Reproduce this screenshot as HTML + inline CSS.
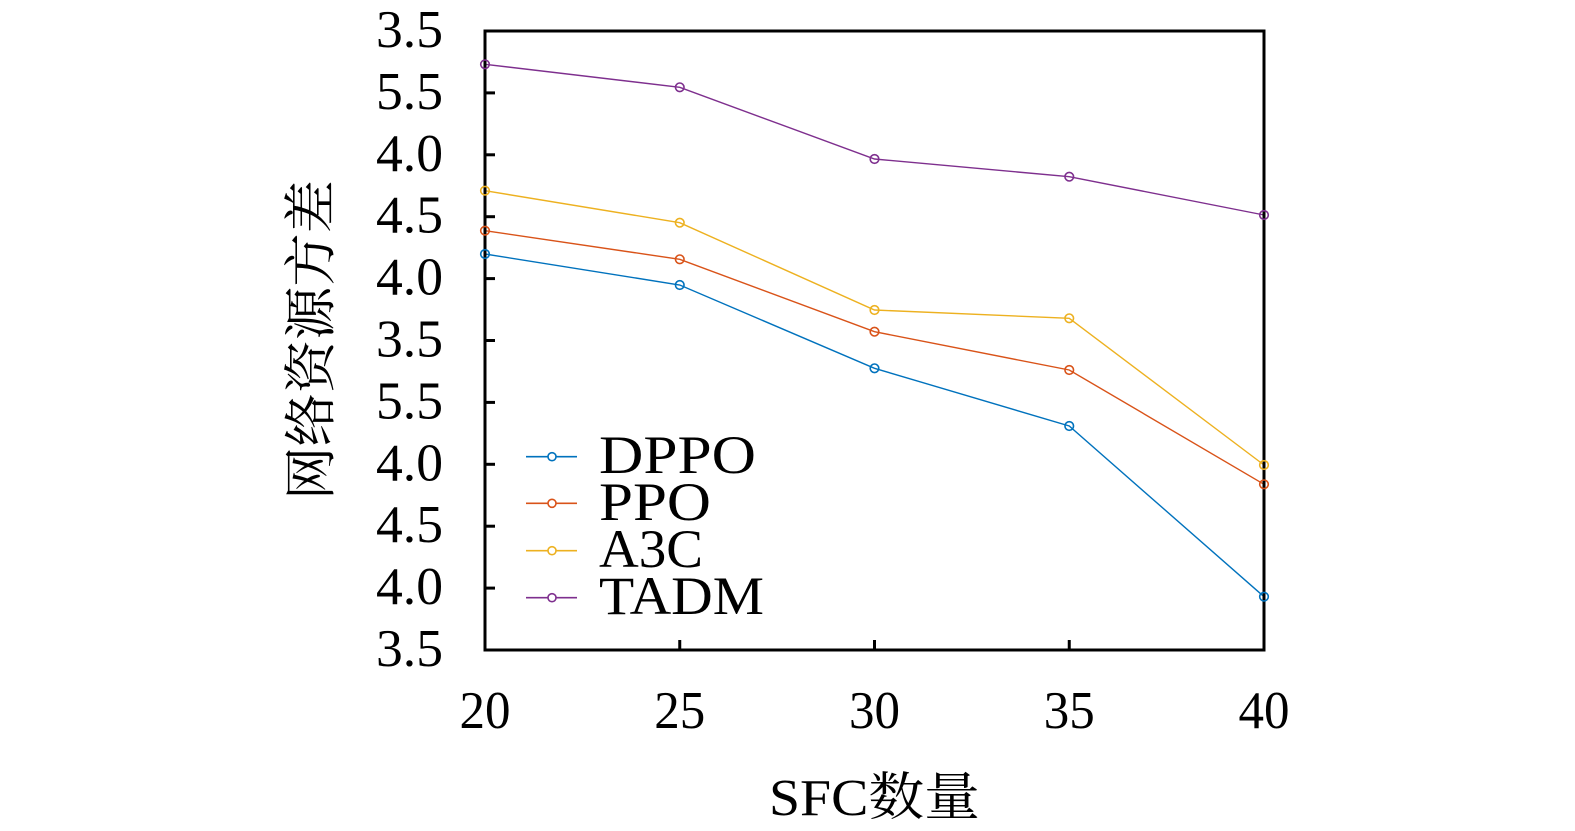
<!DOCTYPE html>
<html>
<head>
<meta charset="utf-8">
<style>
  html,body{margin:0;padding:0;background:#fff;}
  svg{display:block;}
  text{font-family:"Liberation Serif","Noto Serif CJK SC","Noto Sans CJK SC",serif;fill:#000;}
</style>
</head>
<body>
<svg width="1575" height="831" viewBox="0 0 1575 831" xmlns="http://www.w3.org/2000/svg">
  <rect x="0" y="0" width="1575" height="831" fill="#fff"/>

  <!-- y tick marks (left, inward) -->
  <g stroke="#000" stroke-width="3">
    <line x1="485" y1="92.9" x2="495" y2="92.9"/>
    <line x1="485" y1="154.8" x2="495" y2="154.8"/>
    <line x1="485" y1="216.7" x2="495" y2="216.7"/>
    <line x1="485" y1="278.6" x2="495" y2="278.6"/>
    <line x1="485" y1="340.5" x2="495" y2="340.5"/>
    <line x1="485" y1="402.4" x2="495" y2="402.4"/>
    <line x1="485" y1="464.3" x2="495" y2="464.3"/>
    <line x1="485" y1="526.2" x2="495" y2="526.2"/>
    <line x1="485" y1="588.1" x2="495" y2="588.1"/>
    <!-- x tick marks (bottom, inward) -->
    <line x1="679.75" y1="650" x2="679.75" y2="640"/>
    <line x1="874.5" y1="650" x2="874.5" y2="640"/>
    <line x1="1069.25" y1="650" x2="1069.25" y2="640"/>
  </g>

  <!-- y tick labels -->
  <g font-size="53" text-anchor="end">
    <text x="443" y="47" textLength="67" lengthAdjust="spacingAndGlyphs">3.5</text>
    <text x="443" y="108.9" textLength="67" lengthAdjust="spacingAndGlyphs">5.5</text>
    <text x="443" y="170.8" textLength="67" lengthAdjust="spacingAndGlyphs">4.0</text>
    <text x="443" y="232.7" textLength="67" lengthAdjust="spacingAndGlyphs">4.5</text>
    <text x="443" y="294.6" textLength="67" lengthAdjust="spacingAndGlyphs">4.0</text>
    <text x="443" y="356.5" textLength="67" lengthAdjust="spacingAndGlyphs">3.5</text>
    <text x="443" y="418.4" textLength="67" lengthAdjust="spacingAndGlyphs">5.5</text>
    <text x="443" y="480.3" textLength="67" lengthAdjust="spacingAndGlyphs">4.0</text>
    <text x="443" y="542.2" textLength="67" lengthAdjust="spacingAndGlyphs">4.5</text>
    <text x="443" y="604.1" textLength="67" lengthAdjust="spacingAndGlyphs">4.0</text>
    <text x="443" y="666" textLength="67" lengthAdjust="spacingAndGlyphs">3.5</text>
  </g>

  <!-- x tick labels -->
  <g font-size="53" text-anchor="middle">
    <text x="485" y="728" textLength="51" lengthAdjust="spacingAndGlyphs">20</text>
    <text x="679.75" y="728" textLength="51" lengthAdjust="spacingAndGlyphs">25</text>
    <text x="874.5" y="728" textLength="51" lengthAdjust="spacingAndGlyphs">30</text>
    <text x="1069.25" y="728" textLength="51" lengthAdjust="spacingAndGlyphs">35</text>
    <text x="1264" y="728" textLength="51" lengthAdjust="spacingAndGlyphs">40</text>
  </g>

  <!-- axis labels -->
  <text x="769" y="815" font-size="52" textLength="211" lengthAdjust="spacingAndGlyphs">SFC数量</text>
  <text transform="translate(329,340) rotate(-90)" font-size="53" text-anchor="middle" textLength="320" lengthAdjust="spacingAndGlyphs">网络资源方差</text>

  <!-- series -->
  <g fill="none" stroke-width="1.4">
    <polyline stroke="#0072BD" points="485,254 679.75,285 874.5,368.3 1069.25,426 1264,596.7"/>
    <polyline stroke="#D95319" points="485,230.7 679.75,259.3 874.5,331.7 1069.25,370 1264,484.3"/>
    <polyline stroke="#EDB120" points="485,190.7 679.75,222.7 874.5,310 1069.25,318.3 1264,465"/>
    <polyline stroke="#7E2F8E" points="485,64.3 679.75,87.3 874.5,159 1069.25,176.7 1264,215"/>
  </g>

  <!-- axes box -->
  <rect x="485" y="31" width="779" height="619" fill="none" stroke="#000" stroke-width="3"/>

  <!-- markers -->
  <g fill="none" stroke-width="1.6">
    <g stroke="#0072BD">
      <circle cx="485" cy="254" r="4.3"/><circle cx="679.75" cy="285" r="4.3"/><circle cx="874.5" cy="368.3" r="4.3"/><circle cx="1069.25" cy="426" r="4.3"/><circle cx="1264" cy="596.7" r="4.3"/>
    </g>
    <g stroke="#D95319">
      <circle cx="485" cy="230.7" r="4.3"/><circle cx="679.75" cy="259.3" r="4.3"/><circle cx="874.5" cy="331.7" r="4.3"/><circle cx="1069.25" cy="370" r="4.3"/><circle cx="1264" cy="484.3" r="4.3"/>
    </g>
    <g stroke="#EDB120">
      <circle cx="485" cy="190.7" r="4.3"/><circle cx="679.75" cy="222.7" r="4.3"/><circle cx="874.5" cy="310" r="4.3"/><circle cx="1069.25" cy="318.3" r="4.3"/><circle cx="1264" cy="465" r="4.3"/>
    </g>
    <g stroke="#7E2F8E">
      <circle cx="485" cy="64.3" r="4.3"/><circle cx="679.75" cy="87.3" r="4.3"/><circle cx="874.5" cy="159" r="4.3"/><circle cx="1069.25" cy="176.7" r="4.3"/><circle cx="1264" cy="215" r="4.3"/>
    </g>
  </g>

  <!-- legend -->
  <g fill="none" stroke-width="1.6">
    <line x1="526" y1="456.7" x2="577" y2="456.7" stroke="#0072BD"/>
    <circle cx="552" cy="456.7" r="4" stroke="#0072BD" fill="#fff"/>
    <line x1="526" y1="503.3" x2="577" y2="503.3" stroke="#D95319"/>
    <circle cx="552" cy="503.3" r="4" stroke="#D95319" fill="#fff"/>
    <line x1="526" y1="550.7" x2="577" y2="550.7" stroke="#EDB120"/>
    <circle cx="552" cy="550.7" r="4" stroke="#EDB120" fill="#fff"/>
    <line x1="526" y1="597.7" x2="577" y2="597.7" stroke="#7E2F8E"/>
    <circle cx="552" cy="597.7" r="4" stroke="#7E2F8E" fill="#fff"/>
  </g>
  <g font-size="54">
    <text x="599" y="473" textLength="157" lengthAdjust="spacingAndGlyphs">DPPO</text>
    <text x="599" y="520" textLength="112" lengthAdjust="spacingAndGlyphs">PPO</text>
    <text x="599" y="567" textLength="104" lengthAdjust="spacingAndGlyphs">A3C</text>
    <text x="599" y="614" textLength="165" lengthAdjust="spacingAndGlyphs">TADM</text>
  </g>
</svg>
</body>
</html>
